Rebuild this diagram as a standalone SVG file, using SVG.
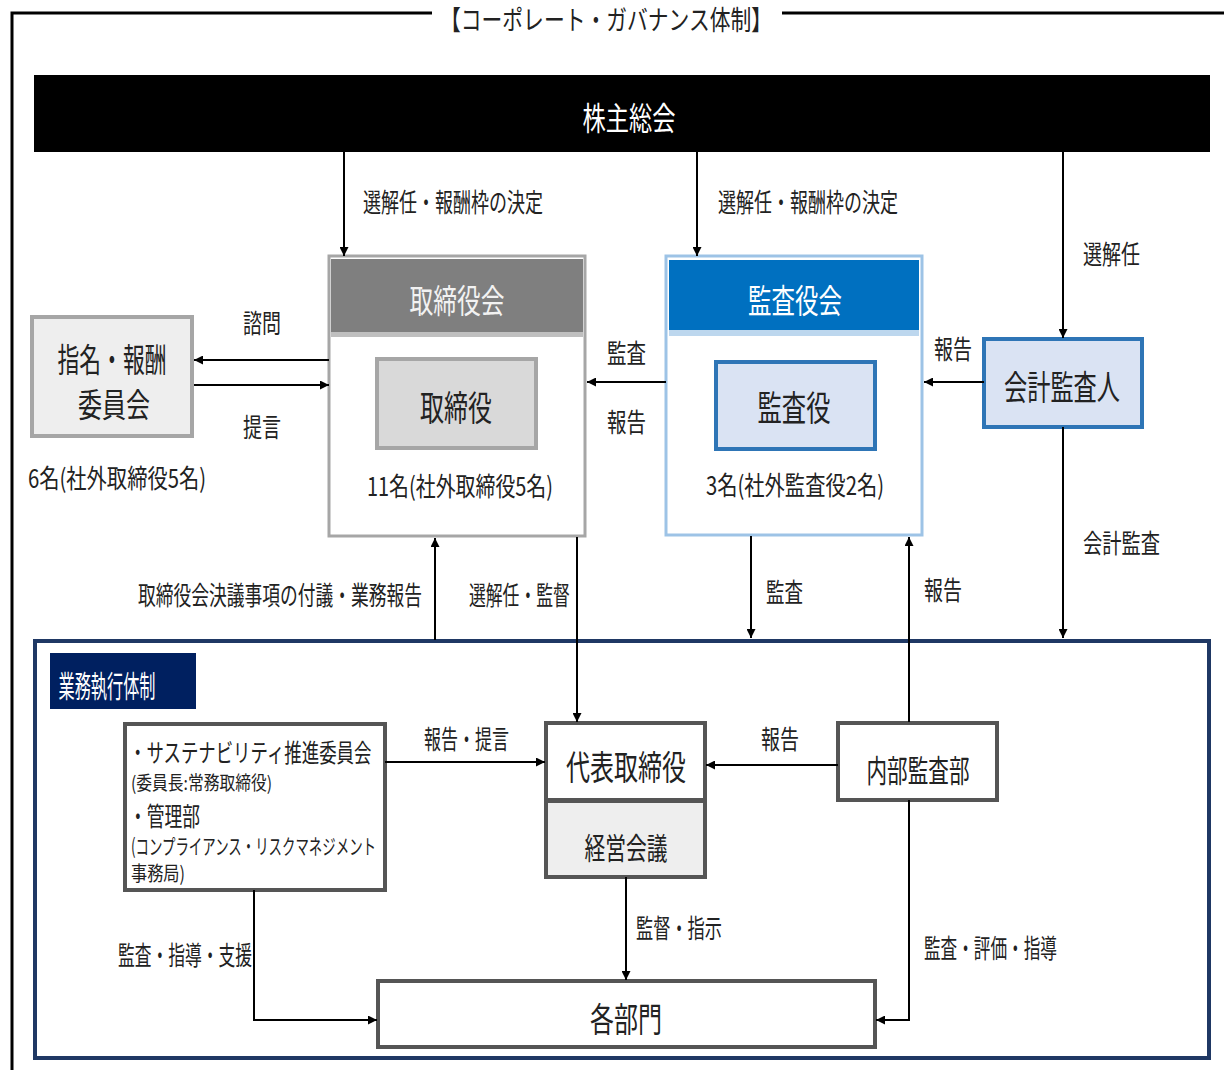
<svg xmlns="http://www.w3.org/2000/svg" width="1224" height="1070" viewBox="0 0 1224 1070">
<defs>
<marker id="ah" viewBox="0 0 10 10" refX="10" refY="5" markerWidth="9" markerHeight="9" markerUnits="userSpaceOnUse" orient="auto"><path d="M0,0 L10,5 L0,10 Z" fill="#000"/></marker>
<style>
text{font-family:"Noto Sans CJK JP","Noto Sans",sans-serif;fill:#222;}
.c{text-anchor:middle}
.ln{stroke:#000;stroke-width:2;fill:none}
.ar{stroke:#000;stroke-width:2;fill:none;marker-end:url(#ah)}
.box{fill:#fff;stroke:#555;stroke-width:4}
</style>
</defs>
<rect width="1224" height="1070" fill="#fff"/>
<g id="frame">
<path d="M12,1070 L12,13 L432,13 M782,13 L1224,13" stroke="#000" stroke-width="3" fill="none"/>
<text x="606" y="30" class="c" font-size="27" textLength="332" lengthAdjust="spacingAndGlyphs">【コーポレート・ガバナンス体制】</text>
</g>
<g id="shareholders">
<rect x="34" y="75" width="1176" height="77" fill="#000"/>
<text x="629" y="130" class="c" font-size="32" style="fill:#fff" textLength="93" lengthAdjust="spacingAndGlyphs">株主総会</text>
</g>
<g id="exec-frame">
<rect x="35" y="641" width="1174" height="417" fill="none" stroke="#1f3864" stroke-width="4"/>
<rect x="50" y="653" width="146" height="56" fill="#002060"/>
<text x="107" y="697" class="c" font-size="30" style="fill:#fff" textLength="97" lengthAdjust="spacingAndGlyphs">業務執行体制</text>
</g>
<g id="board">
<rect x="329" y="256" width="256" height="280" fill="#fff" stroke="#a6a6a6" stroke-width="3"/>
<rect x="331" y="259" width="252" height="73" fill="#7f7f7f"/>
<rect x="331" y="332" width="252" height="5" fill="#bfbfbf"/>
<text x="457" y="313" class="c" font-size="33" style="fill:#f2f2f2" textLength="95" lengthAdjust="spacingAndGlyphs">取締役会</text>
<rect x="377" y="359" width="159" height="89" fill="#d9d9d9" stroke="#a6a6a6" stroke-width="4"/>
<text x="456" y="421" class="c" font-size="35" textLength="72" lengthAdjust="spacingAndGlyphs">取締役</text>
<text x="460" y="496" class="c" font-size="26" textLength="186" lengthAdjust="spacingAndGlyphs">11名(社外取締役5名)</text>
</g>
<g id="nomination">
<rect x="32" y="317" width="160" height="119" fill="#eeeeee" stroke="#a6a6a6" stroke-width="4"/>
<text x="112" y="372" class="c" font-size="33" textLength="109" lengthAdjust="spacingAndGlyphs">指名・報酬</text>
<text x="114" y="417" class="c" font-size="33" textLength="72" lengthAdjust="spacingAndGlyphs">委員会</text>
<text x="117" y="488" class="c" font-size="26" textLength="178" lengthAdjust="spacingAndGlyphs">6名(社外取締役5名)</text>
</g>
<g id="auditboard">
<rect x="666" y="256" width="256" height="279" fill="#fff" stroke="#9dc3e6" stroke-width="3"/>
<rect x="669" y="260" width="250" height="70" fill="#0070c0"/>
<rect x="669" y="330" width="250" height="6" fill="#bdd7ee"/>
<text x="795" y="313" class="c" font-size="33" style="fill:#fff" textLength="94" lengthAdjust="spacingAndGlyphs">監査役会</text>
<rect x="716" y="362" width="159" height="87" fill="#dae3f3" stroke="#2e75b6" stroke-width="4"/>
<text x="794" y="421" class="c" font-size="35" textLength="73" lengthAdjust="spacingAndGlyphs">監査役</text>
<text x="795" y="495" class="c" font-size="26" textLength="178" lengthAdjust="spacingAndGlyphs">3名(社外監査役2名)</text>
</g>
<g id="accountant">
<rect x="984" y="339" width="158" height="88" fill="#dae3f3" stroke="#2e75b6" stroke-width="4"/>
<text x="1062" y="400" class="c" font-size="34" textLength="116" lengthAdjust="spacingAndGlyphs">会計監査人</text>
</g>
<g id="sustainability">
<rect x="125" y="724" width="260" height="166" class="box"/>
<text transform="translate(129,762) scale(0.697,1)" font-size="25">・サステナビリティ推進委員会</text>
<text x="131" y="790" font-size="19" textLength="141" lengthAdjust="spacingAndGlyphs">(委員長:常務取締役)</text>
<text x="129" y="826" font-size="26" textLength="71" lengthAdjust="spacingAndGlyphs">・管理部</text>
<text x="131" y="854" font-size="21" textLength="245" lengthAdjust="spacingAndGlyphs">(コンプライアンス・リスクマネジメント</text>
<text x="131" y="881" font-size="20" textLength="54" lengthAdjust="spacingAndGlyphs">事務局)</text>
</g>
<g id="president">
<rect x="546" y="723" width="159" height="77" class="box"/>
<text x="626" y="780" class="c" font-size="34" textLength="120" lengthAdjust="spacingAndGlyphs">代表取締役</text>
</g>
<g id="mgmt">
<rect x="546" y="801" width="159" height="76" fill="#eeeeee" stroke="#555" stroke-width="4"/>
<text x="626" y="859" class="c" font-size="30" textLength="83" lengthAdjust="spacingAndGlyphs">経営会議</text>
</g>
<g id="internal">
<rect x="838" y="723" width="159" height="77" class="box"/>
<text x="918" y="782" class="c" font-size="31" textLength="103" lengthAdjust="spacingAndGlyphs">内部監査部</text>
</g>
<g id="depts">
<rect x="378" y="981" width="497" height="66" class="box"/>
<text x="626" y="1032" class="c" font-size="34" textLength="72" lengthAdjust="spacingAndGlyphs">各部門</text>
</g>
<g id="connectors">
<path class="ar" d="M344,152 L344,256"/>
<path class="ar" d="M697,152 L697,256"/>
<path class="ar" d="M1063,152 L1063,338"/>
<path class="ar" d="M329,360 L194,360"/>
<path class="ar" d="M194,385 L329,385"/>
<path class="ar" d="M666,382 L587,382"/>
<path class="ar" d="M984,382 L924,382"/>
<path class="ar" d="M1063,427 L1063,638"/>
<path class="ar" d="M435,640 L435,538"/>
<path class="ar" d="M577,537 L577,722"/>
<path class="ar" d="M751,536 L751,638"/>
<path class="ar" d="M909,722 L909,537"/>
<path class="ar" d="M385,762 L545,762"/>
<path class="ar" d="M838,765 L706,765"/>
<path class="ar" d="M626,877 L626,980"/>
<path class="ar" d="M254,890 L254,1020 L377,1020"/>
<path class="ar" d="M909,800 L909,1020 L876,1020"/>
</g>
<g id="labels">
<text x="363" y="212" font-size="26" textLength="180" lengthAdjust="spacingAndGlyphs">選解任・報酬枠の決定</text>
<text x="718" y="212" font-size="26" textLength="180" lengthAdjust="spacingAndGlyphs">選解任・報酬枠の決定</text>
<text x="1083" y="264" font-size="26" textLength="57" lengthAdjust="spacingAndGlyphs">選解任</text>
<text x="243" y="333" font-size="26" textLength="38" lengthAdjust="spacingAndGlyphs">諮問</text>
<text x="243" y="437" font-size="26" textLength="38" lengthAdjust="spacingAndGlyphs">提言</text>
<text x="607" y="363" font-size="26" textLength="39" lengthAdjust="spacingAndGlyphs">監査</text>
<text x="607" y="432" font-size="26" textLength="39" lengthAdjust="spacingAndGlyphs">報告</text>
<text x="934" y="359" font-size="26" textLength="38" lengthAdjust="spacingAndGlyphs">報告</text>
<text x="1083" y="553" font-size="26" textLength="77" lengthAdjust="spacingAndGlyphs">会計監査</text>
<text transform="translate(138,605) scale(0.683,1)" font-size="26">取締役会決議事項の付議・業務報告</text>
<text transform="translate(469,605) scale(0.647,1)" font-size="26">選解任・監督</text>
<text x="766" y="602" font-size="26" textLength="37" lengthAdjust="spacingAndGlyphs">監査</text>
<text x="924" y="600" font-size="26" textLength="38" lengthAdjust="spacingAndGlyphs">報告</text>
<text transform="translate(424,749) scale(0.654,1)" font-size="26">報告・提言</text>
<text x="761" y="749" font-size="26" textLength="38" lengthAdjust="spacingAndGlyphs">報告</text>
<text x="636" y="938" font-size="26" textLength="86" lengthAdjust="spacingAndGlyphs">監督・指示</text>
<text x="118" y="965" font-size="26" textLength="134" lengthAdjust="spacingAndGlyphs">監査・指導・支援</text>
<text x="924" y="958" font-size="26" textLength="133" lengthAdjust="spacingAndGlyphs">監査・評価・指導</text>
</g>
</svg>
